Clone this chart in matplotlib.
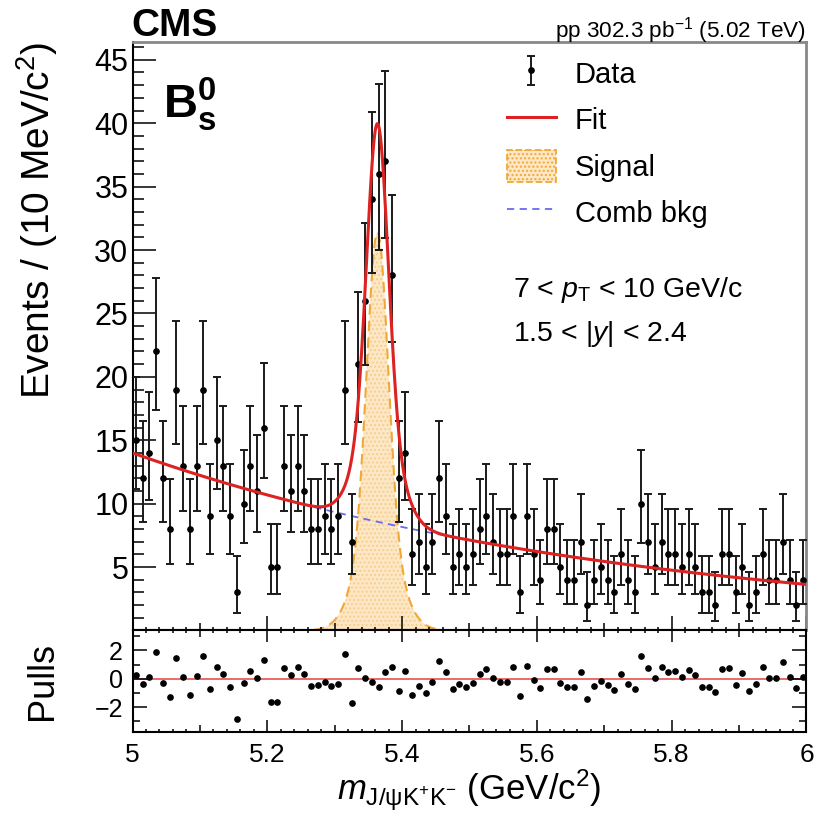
import numpy as np
import matplotlib
matplotlib.use('Agg')
import matplotlib.pyplot as plt
from matplotlib import font_manager
from matplotlib.ticker import FixedLocator, FuncFormatter
from matplotlib.patches import Patch

# --- data (10 MeV bins from 5.0 to 6.0 GeV) ---
counts = [15, 12, 14, 22, 12, 8, 19, 13, 8, 13,
          19, 9, 15, 13, 9, 3, 10, 13, 11, 16,
          5, 5, 13, 11, 13, 11, 8, 8, 9, 8,
          9, 19, 7, 21, 26, 34, 36, 37, 28, 12,
          14, 6, 7, 5, 7, 12, 9, 5, 6, 5,
          6, 8, 9, 7, 6, 6, 9, 3, 9, 6,
          4, 8, 8, 5, 4, 4, 7, 2, 4, 5,
          4, 3, 6, 4, 3, 10, 7, 5, 7, 6,
          6, 5, 6, 5, 3, 3, 2, 6, 6, 3,
          5, 2, 3, 6, 4, 4, 7, 4, 2, 4]

pulls = [0.28, -0.38, 0.12, 1.86, -0.26, -1.25, 1.44, 0.12, -1.13, 0.21,
         1.58, -0.71, 0.82, 0.35, -0.59, -2.85, -0.26, 0.56, 0.05, 1.32,
         -1.65, -1.62, 0.75, 0.26, 0.85, 0.33, -0.47, -0.45, -0.19, -0.49,
         -0.35, 1.76, -1.69, 0.75, 0.09, -0.24, -0.54, 0.52, 0.85, -0.85,
         0.56, -1.13, -0.49, -0.96, -0.24, 1.27, 0.52, -0.68, -0.35, -0.59,
         -0.31, 0.35, 0.71, 0.09, -0.19, -0.19, 0.82, -1.18, 0.89, -0.09,
         -0.66, 0.71, 0.71, -0.26, -0.59, -0.59, 0.49, -1.39, -0.52, -0.14,
         -0.42, -0.80, 0.33, -0.38, -0.71, 1.58, 0.75, 0.05, 0.82, 0.52,
         0.56, 0.16, 0.61, 0.24, -0.54, -0.54, -0.89, 0.73, 0.75, -0.42,
         0.40, -0.82, -0.38, 0.82, 0.09, 0.09, 1.22, 0.12, -0.66, 0.16]

# fit model parameters
bkg_at_5 = 14.0      # comb. background at 5.0 GeV (events / bin)
bkg_slope = 1.35     # exponential slope (1/GeV)
sig_mean = 5.3635
sig_sigma1, sig_h1 = 0.0155, 23.7
sig_sigma2, sig_h2 = 0.030, 7.7

# --- fonts ---
names = {f.name for f in font_manager.fontManager.ttflist}
narrow = 'Liberation Sans Narrow' if 'Liberation Sans Narrow' in names else 'Liberation Sans'
plt.rcParams['font.family'] = ['Liberation Sans', 'DejaVu Sans']
plt.rcParams['mathtext.fontset'] = 'custom'
plt.rcParams['mathtext.rm'] = 'Liberation Sans'
plt.rcParams['mathtext.it'] = 'Liberation Sans:italic'
plt.rcParams['mathtext.bf'] = 'Liberation Sans:bold'

edges = np.linspace(5.0, 6.0, 101)
centers = 0.5 * (edges[:-1] + edges[1:])
n = np.asarray(counts, dtype=float)
# Garwood (Poisson) intervals, Wilson-Hilferty form
err_lo = n - n * (1 - 1 / (9 * n) - 1 / (3 * np.sqrt(n))) ** 3
err_hi = (n + 1) * (1 - 1 / (9 * (n + 1)) + 1 / (3 * np.sqrt(n + 1))) ** 3 - n

xs = np.linspace(5.0, 6.0, 1001)
bkg = bkg_at_5 * np.exp(-bkg_slope * (xs - 5.0))
sig = (sig_h1 * np.exp(-0.5 * ((xs - sig_mean) / sig_sigma1) ** 2)
       + sig_h2 * np.exp(-0.5 * ((xs - sig_mean) / sig_sigma2) ** 2))

fig = plt.figure(figsize=(8.21, 8.13), dpi=100)
ax = fig.add_axes([0.1614, 0.2245, 0.8209, 0.7238])
axp = fig.add_axes([0.1614, 0.1000, 0.8209, 0.1245])

# main panel
ax.fill_between(xs, 0, sig, facecolor='#fde7c4', edgecolor='#f5cf92', hatch='....',
                linewidth=0, zorder=1)
ax.plot(xs, np.where(sig > 0.05, sig, np.nan), ls=(0, (5, 3)), color='#f0a838', lw=1.5, zorder=1.5)
blue, = ax.plot(xs, bkg, ls=(0, (4, 3)), color='#6a6af0', lw=1.3, zorder=3)
dat = ax.errorbar(centers, counts, yerr=[err_lo, err_hi], fmt='o', ms=3.8, color='black',
                  ecolor='#1a1a1a', elinewidth=1.4, capsize=3.2, capthick=1.4, zorder=3.5)
red, = ax.plot(xs, bkg + sig, color='#dd2222', lw=2.2, zorder=4)

ax.set_xlim(5.0, 6.0)
ax.set_ylim(0, 46.4)
ax.yaxis.set_major_locator(FixedLocator(np.arange(5, 46, 5)))
ax.yaxis.set_minor_locator(FixedLocator(np.arange(1, 47, 1)))
ax.tick_params(axis='y', which='major', direction='in', length=16.5, width=1.1,
               labelsize=22, pad=3, left=True, right=False)
ax.tick_params(axis='y', which='minor', direction='in', length=8, width=1.1, left=True, right=False)


def setup_x(a, big, mid, small, show_labels, top):
    a.set_xlim(5.0, 6.0)
    major = np.round(np.arange(5.0, 6.0001, 0.1), 1)
    a.xaxis.set_major_locator(FixedLocator(major))
    a.xaxis.set_minor_locator(FixedLocator(np.round(np.arange(5.0, 6.0001, 0.02), 2)))
    a.xaxis.set_major_formatter(FuncFormatter(
        lambda v, p: f'{v:g}' if round(v * 10) % 2 == 0 else ''))
    a.tick_params(axis='x', which='major', direction='in', length=big, width=1.1,
                  labelsize=19, pad=8, top=top, bottom=True, labelbottom=show_labels)
    a.tick_params(axis='x', which='minor', direction='in', length=small, width=1.1,
                  top=top, bottom=True)
    for t, v in zip(a.xaxis.get_major_ticks(), major):
        if round(v * 10) % 2:
            t.tick1line.set_markersize(mid)
            t.tick2line.set_markersize(mid)


setup_x(ax, 10, 5, 2.5, False, False)

for s in ['top', 'right']:
    ax.spines[s].set_color('#888888')
    ax.spines[s].set_linewidth(2)
for s in ['left', 'bottom']:
    ax.spines[s].set_linewidth(1.5)

ax.set_ylabel('Events / (10 MeV/c$^{2}$)', fontsize=28, loc='top')
ax.yaxis.set_label_coords(-0.108, 1.0)

sig_patch = Patch(facecolor='#fde7c4', edgecolor='#f0a838', hatch='....', linestyle='--', linewidth=1.3)
ax.legend([dat, red, sig_patch, blue], ['Data', 'Fit', 'Signal', 'Comb bkg'],
          loc='upper left', bbox_to_anchor=(0.555, 0.974), frameon=False, fontsize=21,
          handlelength=1.71, handleheight=1.3, handletextpad=0.62, labelspacing=0.5,
          borderpad=0, borderaxespad=0)

ax.text(0.0445, 0.871, r'$\mathbf{B}_{\mathbf{s}}^{\mathbf{0}}$', transform=ax.transAxes,
        fontsize=34, va='baseline', ha='left')
ax.text(0.564, 0.567, '7 < $p_{\\mathrm{T}}$ < 10 GeV/c', transform=ax.transAxes,
        fontsize=20.5, va='baseline', ha='left')
ax.text(0.564, 0.492, '1.5 < |$y$| < 2.4', transform=ax.transAxes,
        fontsize=20.5, va='baseline', ha='left')

fig.text(131 / 821, 1 - 36 / 813, 'CMS', fontsize=28, fontweight='bold', ha='left', va='baseline')
fig.text(806 / 821, 1 - 38 / 813, 'pp 302.3 pb$^{-1}$ (5.02 TeV)', fontsize=16.2,
         family=[narrow, 'Liberation Sans'], ha='right', va='baseline')

# pulls panel
axp.axhline(0, color='#e85050', lw=1.2, zorder=1)
axp.plot(centers, pulls, 'o', color='black', ms=3.8, zorder=2)
axp.set_ylim(-3.72, 3.41)
axp.yaxis.set_major_locator(FixedLocator([-2, 0, 2]))
axp.yaxis.set_minor_locator(FixedLocator([-3, -1, 1, 3]))
axp.tick_params(axis='y', which='major', direction='in', length=10, width=1.1,
                labelsize=18, pad=7, left=True, right=True)
axp.tick_params(axis='y', which='minor', direction='in', length=5, width=1.1, left=True, right=True)
setup_x(axp, 8.5, 5, 2.5, True, True)
for s in axp.spines.values():
    s.set_linewidth(1.5)

axp.set_ylabel('Pulls', fontsize=26)
axp.yaxis.set_label_coords(-0.108, 0.5)
axp.set_xlabel(r'$m_{\mathrm{J/\psi K^{+}K^{-}}}$ (GeV/c$^{2}$)', fontsize=25)
axp.xaxis.set_label_coords(0.5, -0.36)

fig.savefig('out.png', dpi=100)
